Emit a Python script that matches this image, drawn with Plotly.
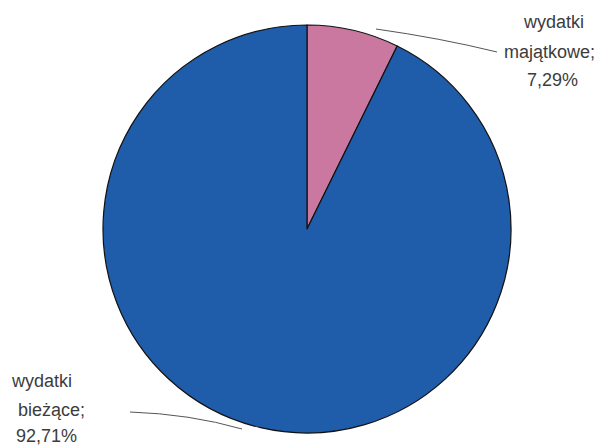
import plotly.graph_objects as go

labels = ["wydatki majątkowe", "wydatki bieżące"]
values = [7.29, 92.71]
colors = ["#CB78A0", "#1F5CA9"]
label_lines_top = ["wydatki", "majątkowe;", "7,29%"]
label_lines_bottom = ["wydatki", "bieżące;", "92,71%"]

W, H = 610, 448

def py(p):
    return 1 - p / H

def px(p):
    return p / W

fig = go.Figure(go.Pie(
    labels=labels, values=values, sort=False, direction="clockwise", rotation=0,
    marker=dict(colors=colors, line=dict(color="#111111", width=1.2)),
    textinfo="none", hoverinfo="label+percent", showlegend=False,
    domain=dict(x=[px(103), px(511)], y=[py(437), py(21)]),
))

font = dict(family="Liberation Sans, Arial, sans-serif", size=18, color="#3c3c3c")
anns = []
for txt, x, y in zip(label_lines_top, [553, 549, 552], [22, 52, 80]):
    anns.append(dict(x=px(x), y=py(y), xref="paper", yref="paper", text=txt,
                     showarrow=False, font=font, xanchor="center", yanchor="middle"))
for txt, x, y in zip(label_lines_bottom, [41, 51, 46], [381, 410, 436]):
    anns.append(dict(x=px(x), y=py(y), xref="paper", yref="paper", text=txt,
                     showarrow=False, font=font, xanchor="center", yanchor="middle"))

shapes = [
    dict(type="path", xref="paper", yref="paper",
         path=f"M {px(376)} {py(29)} Q {px(440)} {py(38)} {px(497)} {py(52)}",
         line=dict(color="#555555", width=1)),
    dict(type="path", xref="paper", yref="paper",
         path=f"M {px(130)} {py(412)} Q {px(190)} {py(414)} {px(242)} {py(429)}",
         line=dict(color="#555555", width=1)),
]

fig.update_layout(width=W, height=H, margin=dict(l=0, r=0, t=0, b=0),
                  paper_bgcolor="white", plot_bgcolor="white",
                  annotations=anns, shapes=shapes)
fig.write_html("out.html", config={"displayModeBar": False},
               post_script="document.body.style.margin='0';document.body.style.overflow='hidden';")
